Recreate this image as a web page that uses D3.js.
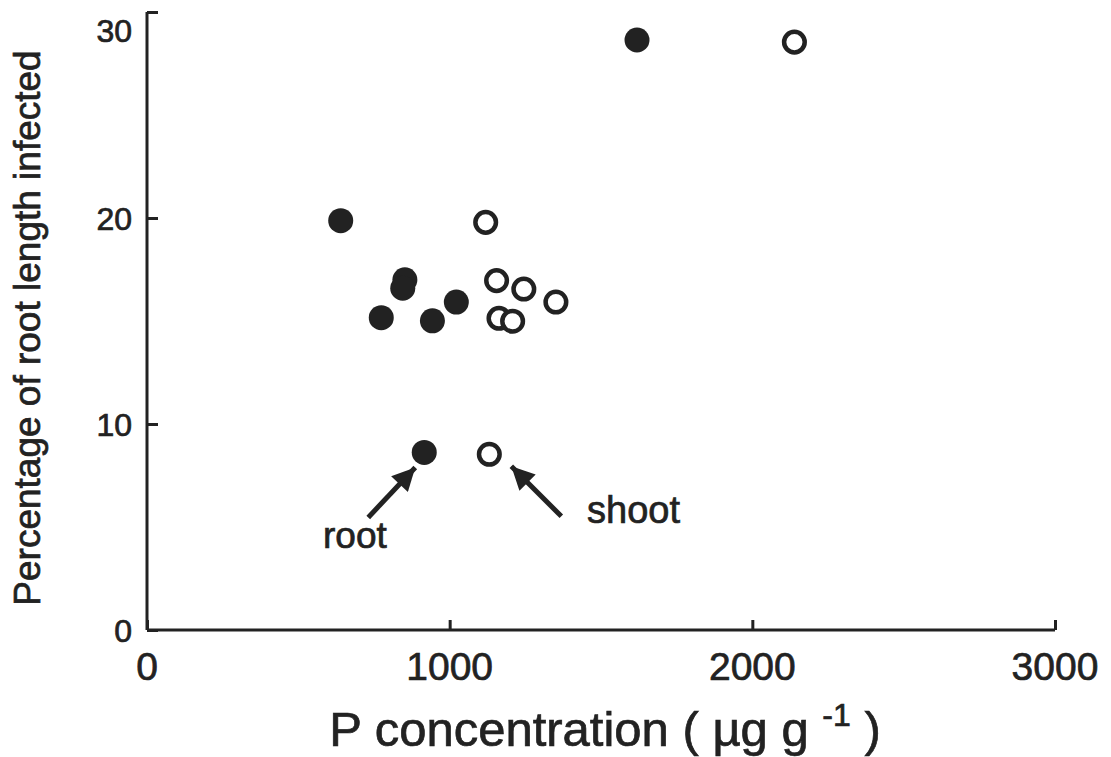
<!DOCTYPE html>
<html><head><meta charset="utf-8">
<script src="https://cdn.jsdelivr.net/npm/d3@7"></script>
<style>body{margin:0;background:#fff}svg text{font-family:"Liberation Sans",Arial,sans-serif;fill:#222;stroke:#222;stroke-width:0.7px}</style>
</head><body><svg id="c" width="1111" height="757"></svg>
<script>
const xTicks = [0, 1000, 2000, 3000];
const yTicks = [0, 10, 20, 30];
const rootX = [1619, 640, 852, 845, 774, 943, 1022, 916];
const rootY = [28.64, 19.87, 17.0, 16.59, 15.16, 15.01, 15.92, 8.62];
const shootX = [2139, 1119, 1155, 1245, 1351, 1163, 1208, 1131];
const shootY = [28.54, 19.79, 16.96, 16.55, 15.92, 15.13, 14.99, 8.53];
const annotations = [
  {label: "root", series: "root", index: 7},
  {label: "shoot", series: "shoot", index: 7}
];

const svg = d3.select("#c");
const ink = "#222";
const x = d3.scaleLinear().domain([0, 3000]).range([147, 1055]);
const y = d3.scaleLinear().domain([0, 30]).range([630, 12]);

// axes
const xa = svg.append("g").attr("transform", "translate(0,630)")
  .call(d3.axisTop(x).tickValues(xTicks).tickSize(10).tickFormat(""));
const ya = svg.append("g").attr("transform", "translate(147,0)")
  .call(d3.axisRight(y).tickValues(yTicks).tickSize(11).tickFormat(""));
[xa, ya].forEach(a => {
  a.select(".domain").attr("stroke", ink).attr("stroke-width", 3);
  a.selectAll(".tick line").attr("stroke", ink).attr("stroke-width", 3);
});
xa.select(".domain").attr("d", `M${x(0)},0H${x(3000)}`);
ya.select(".domain").attr("d", `M0,${y(0)}V${y(30)}`);

svg.append("g").selectAll("text").data(xTicks).join("text")
  .attr("x", d => x(d)).attr("y", 680).attr("text-anchor", "middle")
  .attr("font-size", 39).text(d => d);
svg.append("g").selectAll("text").data(yTicks).join("text")
  .attr("x", 132).attr("y", d => (d === 30 ? 30 : y(d)) + 11.5).attr("text-anchor", "end")
  .attr("font-size", 32).text(d => d);

// titles
svg.append("text").attr("transform", "translate(40,328) rotate(-90)")
  .attr("text-anchor", "middle").attr("font-size", 37)
  .text("Percentage of root length infected");
const xt = svg.append("text").attr("x", 605).attr("y", 746).attr("text-anchor", "middle")
  .attr("font-size", 49);
xt.append("tspan").text("P concentration ( \u00B5g g ");
xt.append("tspan").attr("dy", -20).attr("font-size", 32).text("-1");
xt.append("tspan").attr("dy", 20).text(" )");

// points
const root = rootX.map((v, i) => ({x: v, y: rootY[i]}));
const shoot = shootX.map((v, i) => ({x: v, y: shootY[i]}));
svg.append("g").selectAll("circle").data(root).join("circle")
  .attr("cx", d => x(d.x)).attr("cy", d => y(d.y)).attr("r", 12.5).attr("fill", ink);
svg.append("g").selectAll("circle").data(shoot).join("circle")
  .attr("cx", d => x(d.x)).attr("cy", d => y(d.y)).attr("r", 10.3)
  .attr("fill", "#fff").attr("stroke", ink).attr("stroke-width", 4.5);

// arrows
const defs = svg.append("defs");
defs.append("marker").attr("id", "ah").attr("viewBox", "0 0 10 10")
  .attr("refX", 10).attr("refY", 5).attr("markerWidth", 7).attr("markerHeight", 4.6)
  .attr("orient", "auto").attr("markerUnits", "strokeWidth")
  .append("path").attr("d", "M0,0L10,5L0,10Z").attr("fill", ink);

const rp = root[annotations[0].index], sp = shoot[annotations[1].index];
svg.append("line").attr("x1", x(rp.x) - 56).attr("y1", y(rp.y) + 65)
  .attr("x2", x(rp.x) - 9).attr("y2", y(rp.y) + 15)
  .attr("stroke", ink).attr("stroke-width", 5).attr("marker-end", "url(#ah)");
svg.append("line").attr("x1", x(sp.x) + 72).attr("y1", y(sp.y) + 62)
  .attr("x2", x(sp.x) + 22).attr("y2", y(sp.y) + 12)
  .attr("stroke", ink).attr("stroke-width", 5).attr("marker-end", "url(#ah)");
svg.append("text").attr("x", 323).attr("y", 548).attr("font-size", 37).text(annotations[0].label);
svg.append("text").attr("x", 587).attr("y", 523).attr("font-size", 38).text(annotations[1].label);
</script></body></html>
